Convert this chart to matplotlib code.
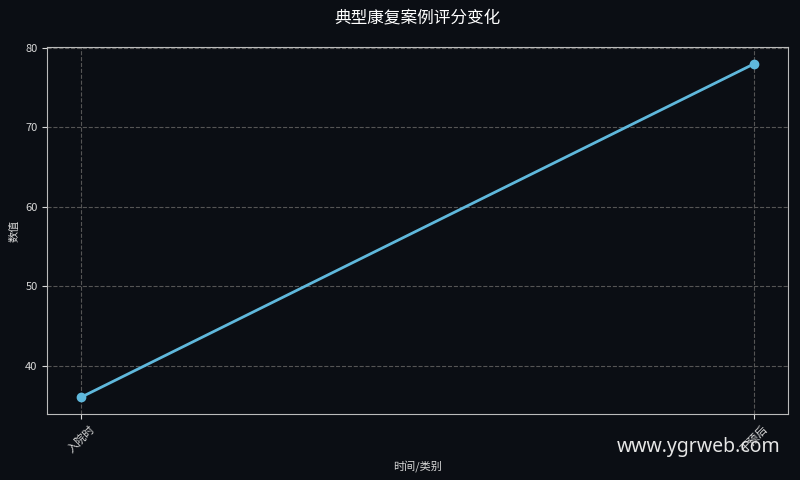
import matplotlib
matplotlib.use("Agg")
import matplotlib.pyplot as plt

plt.rcParams['font.family'] = ['Noto Sans CJK SC', 'DejaVu Sans']

categories = ["入院时", "干预后"]
scores = [36, 78]

bg = "#0b0e14"
fg = "#d8d8d8"

fig, ax = plt.subplots(figsize=(8, 4.8), dpi=100)
fig.patch.set_facecolor(bg)
ax.set_facecolor(bg)

ax.plot(categories, scores, color="#5fb8dc", linewidth=2, marker="o", markersize=6)

ax.set_title("典型康复案例评分变化", color="white", fontsize=12, pad=18)
ax.set_xlabel("时间/类别", color=fg, fontsize=8)
ax.set_ylabel("数值", color=fg, fontsize=8)
ax.tick_params(colors=fg, labelsize=8)
plt.setp(ax.get_xticklabels(), rotation=45)
for s in ax.spines.values():
    s.set_color("#bbbbbb")
ax.grid(True, linestyle="--", color="#555555", linewidth=0.8)
ax.set_yticks([40, 50, 60, 70, 80])

fig.subplots_adjust(left=0.059, right=0.985, top=0.902, bottom=0.1375)
fig.text(0.976, 0.068, "www.ygrweb.com", color="#e6e6e6", fontsize=14,
         ha="right", va="center", family=["Noto Sans", "DejaVu Sans"])

fig.savefig("out.png", facecolor=bg)
